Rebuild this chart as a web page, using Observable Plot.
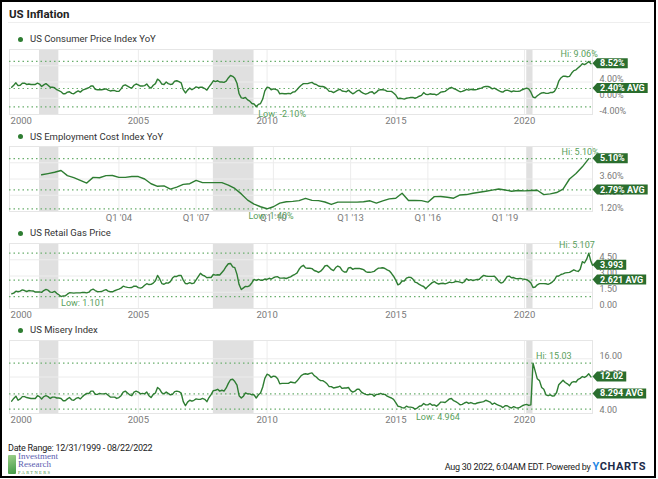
<!DOCTYPE html>
<html><head><meta charset="utf-8">
<script src="https://cdn.jsdelivr.net/npm/d3@7"></script>
<script src="https://cdn.jsdelivr.net/npm/@observablehq/plot@0.6"></script>
<style>
html,body{margin:0;padding:0;background:#fff;}
#root{position:relative;width:658px;height:479px;overflow:hidden;font-family:Roboto,"Noto Sans",sans-serif;color:#333;}
#frame{position:absolute;left:0;top:0;width:656px;height:478px;border:2px solid #000;box-sizing:border-box;pointer-events:none;z-index:10;}
.abs{position:absolute;white-space:nowrap;}
.leg{font-size:9.5px;line-height:12px;color:#333;}
.dot{width:5px;height:5px;border-radius:50%;background:#2e7d32;}
svg.panel{position:absolute;left:0;}
</style></head>
<body><div id="root">
<div id="frame"></div>
<div class="abs" style="left:9px;top:7px;font-size:11.5px;line-height:14px;font-weight:bold;color:#222;">US Inflation</div>
<div class="abs" style="left:8px;top:22px;width:642px;height:1px;background:#eeeeee;"></div>
<div id="legends"></div>
<div class="abs" style="left:8px;top:442px;font-size:9px;line-height:12px;color:#222;letter-spacing:-0.25px;">Date Range: 12/31/1999 - 08/22/2022</div>
<div class="abs" style="left:8px;top:455px;width:8px;height:19px;background:linear-gradient(160deg,#9fd08a,#3f9a45);border-radius:1px;"></div>
<div class="abs" style="left:18px;top:452px;font-family:'Liberation Serif','DejaVu Serif',serif;font-size:9px;line-height:8px;color:#5a5cb0;">Investment<br>Research</div>
<div class="abs" style="left:18px;top:470px;font-family:'Liberation Serif',serif;font-size:4.5px;line-height:5px;letter-spacing:1.4px;color:#3d8f45;">PARTNERS</div>
<div class="abs" style="right:12px;top:461px;font-size:9px;line-height:12px;color:#222;letter-spacing:-0.25px;">Aug 30 2022, 6:04AM EDT. Powered by <span style="font-size:11px;font-weight:bold;letter-spacing:0.6px;"><span style="color:#1e88e5;">Y</span><span style="color:#1c2b4a;">CHARTS</span></span></div>
</div>
<script>
// ---------- DATA ----------
const cpiYoY = [
 2.7,3.2,3.8,3.1,3.2,3.7,3.7,3.4,3.5,3.4,3.4,3.4,
 3.7,3.5,2.9,3.3,3.6,3.2,2.7,2.7,2.6,2.1,1.9,1.6,
 1.1,1.1,1.5,1.6,1.2,1.1,1.5,1.8,1.5,2.0,2.2,2.4,
 2.6,3.0,3.0,2.2,2.1,2.1,2.1,2.2,2.3,2.0,1.8,1.9,
 1.9,1.7,1.7,2.3,3.1,3.3,3.0,2.7,2.5,3.2,3.5,3.3,
 3.0,3.0,3.1,3.5,2.8,2.5,3.2,3.6,4.7,4.3,3.5,3.4,
 4.0,3.6,3.4,3.5,4.2,4.3,4.1,3.8,2.1,1.3,2.0,2.5,
 2.1,2.4,2.8,2.6,2.7,2.7,2.4,2.0,2.8,3.5,4.3,4.1,
 4.3,4.0,4.0,3.9,4.2,5.0,5.6,5.4,4.9,3.7,1.1,0.1,
 0.0,0.2,-0.4,-0.7,-1.3,-1.4,-2.1,-1.5,-1.3,-0.2,1.8,2.7,
 2.6,2.1,2.3,2.2,2.0,1.1,1.2,1.1,1.1,1.2,1.1,1.5,
 1.6,2.1,2.7,3.2,3.6,3.6,3.6,3.8,3.9,3.5,3.4,3.0,
 2.9,2.9,2.7,2.3,1.7,1.7,1.4,1.7,2.0,2.2,1.8,1.7,
 1.6,2.0,1.5,1.1,1.4,1.8,2.0,1.5,1.2,1.0,1.2,1.5,
 1.6,1.1,1.5,2.0,2.1,2.1,2.0,1.7,1.7,1.7,1.3,0.8,
 -0.1,0.0,-0.1,-0.2,0.0,0.1,0.2,0.2,0.0,0.2,0.5,0.7,
 1.4,1.0,0.9,1.1,1.0,1.0,0.8,1.1,1.5,1.6,1.7,2.1,
 2.5,2.7,2.4,2.2,1.9,1.6,1.7,1.9,2.2,2.0,2.2,2.1,
 2.1,2.2,2.4,2.5,2.8,2.9,2.9,2.7,2.3,2.5,2.2,1.9,
 1.6,1.5,1.9,2.0,1.8,1.6,1.8,1.7,1.7,1.8,2.1,2.3,
 2.5,2.3,1.5,0.3,0.1,0.6,1.0,1.3,1.4,1.2,1.2,1.4,
 1.4,1.7,2.6,4.2,5.0,5.4,5.4,5.3,5.4,6.2,6.8,7.0,
 7.5,7.9,8.5,8.3,8.6,9.06,8.52
];
const eciYoY = [
 3.91,4.0,4.1,4.23, 3.85,3.7,3.5,3.3, 3.72,3.69,3.85,3.86, 3.72,3.72,3.78,3.78,
 3.6,3.25,3.06,3.09, 2.85,3.0,3.2,3.25, 3.5,3.33,3.33,3.33, 3.33,3.15,2.9,2.5,
 2.04,1.75,1.55,1.40, 1.55,1.82,1.92,1.95, 2.0,2.17,2.02,2.0, 1.9,1.72,1.89,1.89,
 1.89,1.89,1.92,1.99, 1.82,1.98,2.13,2.18, 2.55,2.01,2.01,2.0, 1.89,2.3,2.31,2.25,
 2.18,2.42,2.45,2.55, 2.62,2.7,2.78,2.86, 2.79,2.7,2.75,2.72, 2.75,2.77,2.45,2.5,
 2.6,2.86,3.6,4.0, 4.5,5.10
];
const gasPrice = [
 1.35,1.42,1.60,1.55,1.60,1.72,1.66,1.57,1.66,1.63,1.62,1.52,
 1.52,1.53,1.49,1.66,1.76,1.69,1.51,1.49,1.58,1.40,1.27,1.101,
 1.17,1.17,1.32,1.45,1.44,1.42,1.44,1.44,1.44,1.49,1.48,1.44,
 1.51,1.70,1.78,1.66,1.55,1.56,1.57,1.68,1.74,1.61,1.55,1.54,
 1.64,1.72,1.79,1.88,2.06,2.00,1.95,1.93,1.94,2.07,2.06,1.93,
 1.88,1.96,2.14,2.29,2.21,2.23,2.34,2.56,3.05,2.73,2.30,2.24,
 2.37,2.34,2.48,2.81,2.97,2.96,3.06,3.04,2.62,2.30,2.29,2.38,
 2.29,2.34,2.65,2.95,3.25,3.08,3.00,2.84,2.87,2.86,3.14,3.08,
 3.11,3.09,3.33,3.56,3.88,4.13,4.16,3.84,3.77,3.15,2.21,1.75,
 1.90,2.04,2.02,2.12,2.38,2.69,2.59,2.69,2.61,2.61,2.72,2.68,
 2.79,2.72,2.84,2.92,2.93,2.80,2.80,2.81,2.77,2.86,2.92,3.05,
 3.16,3.27,3.62,3.87,3.99,3.75,3.72,3.71,3.68,3.51,3.44,3.33,
 3.44,3.64,3.92,3.98,3.80,3.61,3.50,3.78,3.92,3.82,3.51,3.37,
 3.37,3.75,3.78,3.61,3.70,3.69,3.70,3.65,3.59,3.41,3.34,3.34,
 3.38,3.43,3.60,3.73,3.74,3.76,3.69,3.56,3.48,3.25,2.98,2.62,
 2.18,2.28,2.54,2.54,2.80,2.88,2.87,2.72,2.43,2.37,2.22,2.12,
 2.03,1.82,2.04,2.22,2.39,2.49,2.34,2.26,2.31,2.33,2.27,2.34,
 2.44,2.39,2.41,2.51,2.48,2.43,2.36,2.47,2.75,2.60,2.66,2.57,
 2.64,2.68,2.70,2.90,3.06,3.00,2.97,2.97,2.97,2.98,2.77,2.50,
 2.35,2.41,2.66,2.96,2.99,2.84,2.86,2.76,2.75,2.78,2.73,2.70,
 2.67,2.55,2.36,1.94,1.98,2.19,2.30,2.30,2.30,2.28,2.23,2.32,
 2.46,2.63,2.98,3.00,3.14,3.20,3.29,3.31,3.33,3.45,3.57,3.48,
 3.42,3.62,4.32,4.20,4.55,5.107,4.35
];
const gasFinal = {date: "2022-08-22", value: 3.993};
const miseryIndex = [
 6.7,7.3,7.8,6.9,7.2,7.7,7.7,7.5,7.4,7.3,7.3,7.3,
 7.9,7.7,7.2,7.7,7.9,7.7,7.3,7.6,7.6,7.4,7.4,7.3,
 6.8,6.8,7.2,7.5,7.0,6.9,7.3,7.5,7.2,7.7,8.1,8.4,
 8.4,8.9,8.9,8.2,8.2,8.4,8.3,8.3,8.4,8.0,7.6,7.6,
 7.6,7.3,7.5,7.9,8.7,8.9,8.5,8.1,7.9,8.7,8.9,8.7,
 8.3,8.4,8.3,8.7,7.9,7.5,8.2,8.5,9.7,9.3,8.5,8.3,
 8.7,8.4,8.1,8.2,8.8,8.9,8.8,8.5,6.6,5.7,6.5,6.9,
 6.7,6.9,7.2,7.1,7.1,7.3,7.1,6.6,7.5,8.2,9.0,9.1,
 9.3,8.9,9.1,8.9,9.6,10.6,11.4,11.5,11.0,10.2,7.9,7.4,
 7.8,8.5,8.3,8.3,8.1,8.1,7.4,8.1,8.5,9.8,11.7,12.6,
 12.4,11.9,12.2,12.1,11.6,10.5,10.6,10.6,10.6,10.6,10.9,10.8,
 10.7,11.1,11.7,12.3,12.6,12.7,12.6,12.8,12.9,12.3,12.0,11.5,
 11.2,11.2,10.9,10.5,9.9,9.9,9.6,9.7,9.8,10.0,9.5,9.6,
 9.6,9.7,9.0,8.7,8.9,9.3,9.3,8.7,8.4,8.2,8.1,8.2,
 8.2,7.8,8.2,8.2,8.4,8.2,8.2,7.8,7.6,7.4,7.1,6.4,
 5.6,5.5,5.3,5.2,5.6,5.4,5.4,5.3,4.964,5.2,5.6,5.7,
 6.2,5.9,5.9,6.2,5.8,5.9,5.6,6.0,6.5,6.5,6.4,6.8,
 7.2,7.3,6.8,6.6,6.3,5.9,6.0,6.3,6.5,6.2,6.4,6.2,
 6.1,6.3,6.4,6.5,6.6,6.9,6.7,6.5,6.0,6.3,6.0,5.8,
 5.6,5.3,5.7,5.7,5.4,5.2,5.5,5.3,5.2,5.4,5.7,5.9,
 6.0,5.8,5.9,15.03,13.3,11.6,11.2,9.7,9.3,8.1,7.9,8.1,
 7.8,7.9,8.6,10.3,10.8,11.3,10.8,10.5,10.1,10.8,11.0,10.9,
 11.5,11.7,12.1,11.9,12.2,12.7,12.02
];
const seriesNames = ["US Consumer Price Index YoY","US Employment Cost Index YoY","US Retail Gas Price","US Misery Index"];
const averages = [2.40, 2.79, 2.621, 8.294];
const avgLabels = ["2.40% AVG","2.79% AVG","2.621 AVG","8.294 AVG"];
const lastLabels = ["8.52%","5.10%","3.993","12.02"];
const hiLabels = ["Hi: 9.06%","Hi: 5.10%","Hi: 5.107","Hi: 15.03"];
const lowLabels = ["Low: -2.10%","Low: 1.40%","Low: 1.101","Low: 4.964"];
const yDomains = [[-4,12],[1.2,6.0],[0,6],[4,20]];
const yGrid = [[-4,0,4,8,12],[1.2,2.4,3.6,4.8,6.0],[0,1.5,3,4.5,6],[4,8,12,16,20]];
const yLabels = [[-4,0,4,8],[1.2,2.4,3.6,4.8],[0,1.5,3,4.5],[4,8,12,16]];
const yearTicks = ["2000","2005","2010","2015","2020"];
const quarterTicks = ["2004-03-31","2007-03-31","2010-03-31","2013-03-31","2016-03-31","2019-03-31"];
const recessionStart = ["2001-03-01","2007-12-01","2020-02-01"];
const recessionEnd = ["2001-11-30","2009-06-30","2020-04-30"];
const dateRange = ["1999-12-31","2022-08-22"];

// ---------- BUILD ----------
const P = s => new Date(s.length === 4 ? s + "-01-01T00:00:00Z" : s + "T00:00:00Z");
const monthEnd = i => new Date(Date.UTC(2000 + Math.floor(i / 12), (i % 12) + 1, 0));
const quarterEnd = i => new Date(Date.UTC(2001 + Math.floor(i / 4), (i % 4) * 3 + 3, 0));
const cpiData = cpiYoY.map((v, i) => ({date: monthEnd(i), value: v}));
const eciData = eciYoY.map((v, i) => ({date: quarterEnd(i), value: v}));
const gasData = gasPrice.map((v, i) => ({date: monthEnd(i), value: v})).concat([{date: P(gasFinal.date), value: gasFinal.value}]);
const miseryData = miseryIndex.map((v, i) => ({date: monthEnd(i), value: v}));
const recessions = recessionStart.map((s, i) => ({start: P(s), end: P(recessionEnd[i])}));
const years = yearTicks.map(P);
const quarters = quarterTicks.map(P);

const GREEN = "#2e7d32", BADGE = "#2a6e2e", DOTTED = "#6aae6d", ANNOT = "#58a05b", GRID = "#ececec", TICKTXT = "#7a7a7a";

const fmtPct = v => v.toFixed(2) + "%";
const fmt2 = v => v.toFixed(2);

const panels = [
  {data: cpiData, top: 44, h: 86, legend: 39, fmt: fmtPct, xt: years, xf: d3.utcFormat("%Y"), firstSep: true,
   hi: {anchor: "end", dx: 9, dy: -7}, low: {anchor: "start", dx: 2, dy: 7}},
  {data: eciData, top: 141, h: 87, legend: 136.5, fmt: fmtPct, xt: quarters, xf: d => "Q1 '" + d3.utcFormat("%y")(d), firstSep: false,
   hi: {anchor: "end", dx: 10, dy: -7}, low: {anchor: "middle", dx: 4, dy: 7}},
  {data: gasData, top: 238, h: 86, legend: 233, fmt: fmt2, xt: years, xf: d3.utcFormat("%Y"), firstSep: true,
   hi: {anchor: "end", dx: 6, dy: -8}, low: {anchor: "start", dx: 0, dy: 7}},
  {data: miseryData, top: 335, h: 94, legend: 330, fmt: fmt2, xt: years, xf: d3.utcFormat("%Y"), firstSep: true,
   hi: {anchor: "start", dx: 3, dy: -7}, low: {anchor: "start", dx: 1, dy: 8}}
];

const root = document.getElementById("root");
const legends = document.getElementById("legends");

panels.forEach((p, k) => {
  // legend
  const dot = document.createElement("div");
  dot.className = "abs dot";
  dot.style.left = "17.5px"; dot.style.top = (p.legend - 2.5) + "px";
  legends.appendChild(dot);
  const lt = document.createElement("div");
  lt.className = "abs leg";
  lt.style.left = "30px"; lt.style.top = (p.legend - 6) + "px";
  lt.textContent = seriesNames[k];
  legends.appendChild(lt);

  const hiIdx = d3.maxIndex(p.data, d => d.value);
  const loIdx = d3.minIndex(p.data, d => d.value);
  const hiPt = p.data[hiIdx], loPt = p.data[loIdx];
  const xticks = p.firstSep ? p.xt.slice(1) : p.xt;

  const marks = [
    Plot.rect(recessions, {x1: "start", x2: "end", fill: "#e0e0e0"}),
    Plot.gridY(yGrid[k], {stroke: GRID, strokeOpacity: 1}),
    Plot.gridX(xticks, {stroke: GRID, strokeOpacity: 1}),
    Plot.frame({stroke: "#e6e6e6"}),
    Plot.ruleY([hiPt.value, averages[k], loPt.value], {stroke: DOTTED, strokeDasharray: "1.5,3", strokeWidth: 1.2}),
    Plot.lineY(p.data, {x: "date", y: "value", stroke: GREEN, strokeWidth: 1.4}),
    Plot.axisX(xticks, {tickSize: 0, tickPadding: 3, tickFormat: p.xf, color: TICKTXT, fontSize: 9.5, label: null}),
    Plot.axisY(yLabels[k], {anchor: "right", tickSize: 0, tickPadding: 7, dy: -3, tickFormat: p.fmt, color: TICKTXT, fontSize: 9, label: null}),
    Plot.text([hiPt], {x: "date", y: "value", text: () => hiLabels[k], textAnchor: p.hi.anchor, dx: p.hi.dx, dy: p.hi.dy, fill: ANNOT, fontSize: 9}),
    Plot.text([loPt], {x: "date", y: "value", text: () => lowLabels[k], textAnchor: p.low.anchor, dx: p.low.dx, dy: p.low.dy, fill: ANNOT, fontSize: 9})
  ];
  if (p.firstSep) {
    marks.push(Plot.axisX(p.xt.slice(0, 1), {tickSize: 0, tickPadding: 3, tickFormat: p.xf, color: TICKTXT, fontSize: 9.5, textAnchor: "start", dx: 1, label: null}));
  }

  const chart = Plot.plot({
    width: 658, height: p.h,
    marginLeft: 9, marginRight: 66, marginTop: 5, marginBottom: p.h - 5 - (k === 3 ? 73 : 65),
    style: {fontFamily: "Roboto, 'Noto Sans', sans-serif", fontSize: "9px", background: "transparent", overflow: "visible"},
    x: {type: "utc", domain: dateRange.map(P)},
    y: {domain: yDomains[k]},
    marks
  });
  chart.classList.add("panel");
  chart.style.top = p.top + "px";
  root.appendChild(chart);

  // value badges on the right edge, placed through the plot's own scales
  const ys = chart.scale("y");
  const xr = chart.scale("x").range;
  const svg = d3.select(chart);
  const badge = (v, label) => {
    const yy = ys.apply(v);
    const g = svg.append("g").attr("text-anchor", "start");
    const path = g.append("path").attr("fill", BADGE);
    const t = g.append("text")
      .attr("x", xr[1] + 8).attr("y", yy).attr("dy", "0.34em")
      .attr("text-anchor", "start")
      .attr("fill", "#fff").attr("font-weight", "bold").attr("font-size", 9)
      .attr("font-family", "Roboto, sans-serif").text(label);
    const w = t.node().getComputedTextLength();
    const x0 = xr[1] + 0.5, x1 = xr[1] + 5, x2 = xr[1] + 11 + w, h = 5;
    path.attr("d", `M${x0},${yy}L${x1},${yy - h}H${x2}V${yy + h}H${x1}Z`);
  };
  badge(p.data[p.data.length - 1].value, lastLabels[k]);
  badge(averages[k], avgLabels[k]);
});
</script>
</body></html>
